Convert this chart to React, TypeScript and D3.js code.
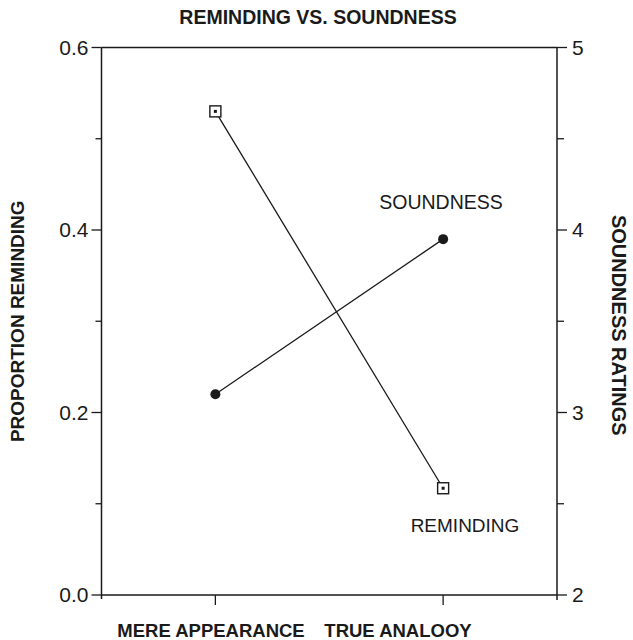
import React from "react";
import * as d3 from "d3";

const categories = ["MERE APPEARANCE", "TRUE ANALOOY"];
const remindingValues = [0.53, 0.117];
const soundnessValues = [3.1, 3.95];
const leftMajorTicks = [0, 0.2, 0.4, 0.6];
const leftMinorTicks = [0.1, 0.3, 0.5];
const rightMajorTicks = [2, 3, 4, 5];
const rightMinorTicks = [2.5, 3.5, 4.5];
const leftTickLabels = ["0.0", "0.2", "0.4", "0.6"];
const rightTickLabels = ["2", "3", "4", "5"];

export default function App() {
  const W = 633, H = 640;
  const left = 101.5, right = 557, top = 47.5, bottom = 595;
  const x = d3.scaleLinear().domain([0.5, 2.5]).range([left, right]);
  const yL = d3.scaleLinear().domain([0, 0.6]).range([bottom, top]);
  const yR = d3.scaleLinear().domain([2, 5]).range([bottom, top]);
  const line = d3.line<[number, number]>().x(d => d[0]).y(d => d[1]);
  const remPts: [number, number][] = remindingValues.map((v, i) => [x(i + 1), yL(v)]);
  const sndPts: [number, number][] = soundnessValues.map((v, i) => [x(i + 1), yR(v)]);
  const ink = "#1a1a1a";
  const font = "Liberation Sans, Arial, Helvetica, sans-serif";
  const sq = 11;
  const tickFs = 21;
  const lblFs = 19;
  return (
    <svg width={W} height={H} style={{ display: "block", position: "absolute", left: 0, top: 0 }} fontFamily={font}>
      <rect width={W} height={H} fill="#fff" />
      <text x={318} y={24} textAnchor="middle" fontWeight="bold" fontSize={19.5} fill={ink}>REMINDING VS. SOUNDNESS</text>
      {/* frame */}
      <line x1={left} x2={right} y1={top} y2={top} stroke={ink} strokeWidth={1.5} />
      <line x1={left} x2={right} y1={bottom} y2={bottom} stroke={ink} strokeWidth={1.5} />
      <line x1={left} x2={left} y1={top} y2={bottom + 4} stroke={ink} strokeWidth={1.5} />
      <line x1={right} x2={right} y1={top} y2={bottom + 5} stroke={ink} strokeWidth={1.5} />
      {leftMajorTicks.map((t, i) => (
        <g key={"lm" + i}>
          <line x1={left - 10} x2={left} y1={yL(t)} y2={yL(t)} stroke={ink} strokeWidth={1.3} />
          <text x={left - 13} y={yL(t)} dy="0.35em" textAnchor="end" fontSize={tickFs} fill={ink}>{leftTickLabels[i]}</text>
        </g>
      ))}
      {leftMinorTicks.map((t, i) => (
        <line key={"ln" + i} x1={left - 6} x2={left} y1={yL(t)} y2={yL(t)} stroke={ink} strokeWidth={1.3} />
      ))}
      {rightMajorTicks.map((t, i) => (
        <g key={"rm" + i}>
          <line x1={right} x2={right + 10} y1={yR(t)} y2={yR(t)} stroke={ink} strokeWidth={1.3} />
          <text x={right + 15} y={yR(t)} dy="0.35em" textAnchor="start" fontSize={tickFs} fill={ink}>{rightTickLabels[i]}</text>
        </g>
      ))}
      {rightMinorTicks.map((t, i) => (
        <line key={"rn" + i} x1={right} x2={right + 7} y1={yR(t)} y2={yR(t)} stroke={ink} strokeWidth={1.3} />
      ))}
      {categories.map((c, i) => (
        <line key={"xt" + i} x1={x(i + 1)} x2={x(i + 1)} y1={bottom} y2={bottom + 10} stroke={ink} strokeWidth={1.3} />
      ))}
      <text x={211} y={637} textAnchor="middle" fontWeight="bold" fontSize={18.5} fill={ink}>{categories[0]}</text>
      <text x={398} y={637} textAnchor="middle" fontWeight="bold" fontSize={18.5} fill={ink}>{categories[1]}</text>
      <text transform={`translate(24,${(top + bottom) / 2}) rotate(-90)`} textAnchor="middle" fontWeight="bold" fontSize={lblFs} fill={ink}>PROPORTION REMINDING</text>
      <text transform={`translate(612,${(top + bottom) / 2 + 4}) rotate(90)`} textAnchor="middle" fontWeight="bold" fontSize={20} fill={ink}>SOUNDNESS RATINGS</text>
      {/* series */}
      <path d={line(remPts) || ""} fill="none" stroke={ink} strokeWidth={1.3} />
      <path d={line(sndPts) || ""} fill="none" stroke={ink} strokeWidth={1.3} />
      {remPts.map((p, i) => (
        <g key={"r" + i}>
          <rect x={p[0] - sq / 2} y={p[1] - sq / 2} width={sq} height={sq} fill="#fff" stroke={ink} strokeWidth={1.4} />
          <rect x={p[0] - 1.5} y={p[1] - 1.5} width={3} height={3} fill={ink} />
        </g>
      ))}
      {sndPts.map((p, i) => (
        <circle key={"s" + i} cx={p[0]} cy={p[1]} r={5} fill={ink} />
      ))}
      <text x={441} y={209} textAnchor="middle" fontSize={19.5} fill={ink}>SOUNDNESS</text>
      <text x={465} y={532} textAnchor="middle" fontSize={19} fill={ink}>REMINDING</text>
    </svg>
  );
}
